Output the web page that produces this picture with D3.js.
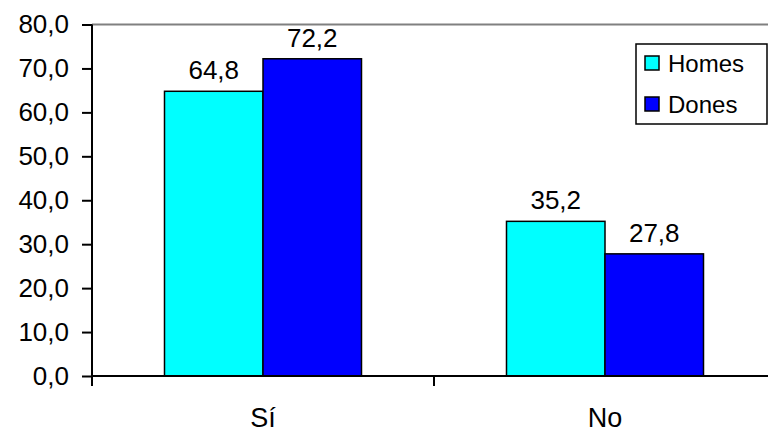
<!DOCTYPE html>
<html><head><meta charset="utf-8">
<script src="https://cdn.jsdelivr.net/npm/d3@7"></script>
<style>body{margin:0;background:#fff}svg{display:block}text{font-family:"Liberation Sans",Arial,sans-serif;fill:#000}</style>
</head><body>
<svg id="c" width="768" height="435"></svg>
<script>
const categories = ["Sí", "No"];
const seriesNames = ["Homes", "Dones"];
const homes = [64.8, 35.2];
const dones = [72.2, 27.8];
const yTicks = [0, 10, 20, 30, 40, 50, 60, 70, 80];
const colors = ["#00FFFF", "#0000FF"];

const svg = d3.select("#c");
const pLeft = 92, pRight = 776, pTop = 24.5, pBottom = 376;
const y = d3.scaleLinear().domain([0, 80]).range([pBottom, pTop]);
const x0 = d3.scaleBand().domain(categories).range([pLeft, pRight]).paddingInner(0).paddingOuter(0);
const x1 = d3.scaleBand().domain(seriesNames).range([0, x0.bandwidth()]).paddingInner(0).paddingOuter(0.736);
const fmt = v => d3.format(".1f")(v).replace(".", ",");

// top border line
svg.append("line").attr("x1", pLeft).attr("x2", 768).attr("y1", pTop).attr("y2", pTop)
  .attr("stroke", "#808080").attr("stroke-width", 2);

const data = categories.map((c, i) => ({cat: c, vals: [homes[i], dones[i]]}));
const g = svg.append("g");
data.forEach(d => {
  d.vals.forEach((v, j) => {
    const xx = x0(d.cat) + x1(seriesNames[j]);
    g.append("rect").attr("x", xx).attr("y", y(v)).attr("width", x1.bandwidth()).attr("height", y(0) - y(v))
      .attr("fill", colors[j]).attr("stroke", "#000").attr("stroke-width", 1.5);
    g.append("text").attr("x", xx + x1.bandwidth() / 2).attr("y", y(v) - 12)
      .attr("text-anchor", "middle").attr("font-size", 26).text(fmt(v));
  });
});

// Y axis
const yAxis = d3.axisLeft(y).tickValues(yTicks).tickFormat(fmt).tickSize(10).tickPadding(13);
const ya = svg.append("g").attr("transform", `translate(${pLeft},0)`).call(yAxis);
ya.select(".domain").attr("stroke", "#000").attr("stroke-width", 2).attr("d", `M0,${pTop}V${pBottom + 10}`);
ya.selectAll(".tick line").attr("stroke", "#000").attr("stroke-width", 2);
ya.selectAll(".tick text").attr("font-size", 26).attr("font-family", "Liberation Sans, Arial, sans-serif").attr("fill", "#000");

// X axis
const xa = svg.append("g").attr("transform", `translate(0,${pBottom})`);
xa.append("line").attr("x1", pLeft).attr("x2", pRight).attr("stroke", "#000").attr("stroke-width", 2);
[pLeft, x0("No"), pRight].forEach(t => xa.append("line").attr("x1", t).attr("x2", t).attr("y1", 0).attr("y2", 10).attr("stroke", "#000").attr("stroke-width", 2));
categories.forEach(c => xa.append("text").attr("x", x0(c) + x0.bandwidth() / 2).attr("y", 51)
  .attr("text-anchor", "middle").attr("font-size", 27).text(c));

// Legend
const lg = svg.append("g");
lg.append("rect").attr("x", 636).attr("y", 44).attr("width", 131).attr("height", 80)
  .attr("fill", "#fff").attr("stroke", "#000").attr("stroke-width", 1.5);
seriesNames.forEach((s, j) => {
  const yy = 56 + j * 41;
  lg.append("rect").attr("x", 645).attr("y", yy).attr("width", 14).attr("height", 14)
    .attr("fill", colors[j]).attr("stroke", "#000").attr("stroke-width", 1.5);
  lg.append("text").attr("x", 668).attr("y", yy + 16).attr("font-size", 24).text(s);
});
</script>
</body></html>
